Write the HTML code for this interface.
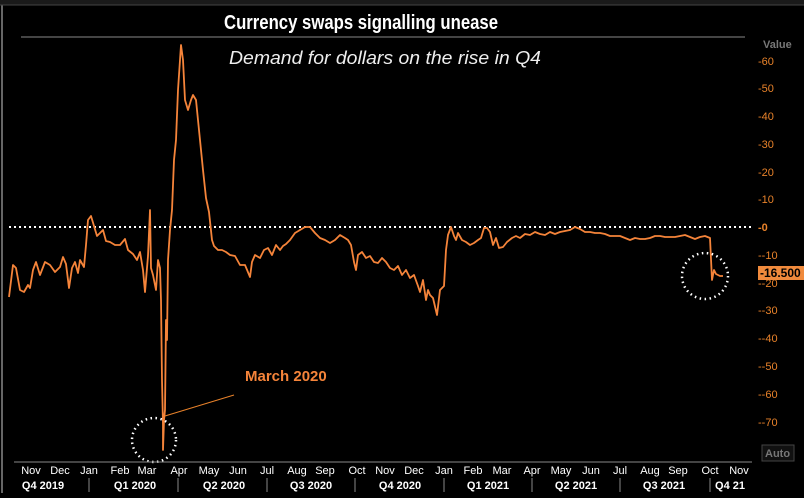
<!DOCTYPE html>
<html><head><meta charset="utf-8"><style>
html,body{margin:0;padding:0;background:#000;}
body{width:804px;height:493px;overflow:hidden;font-family:"Liberation Sans",sans-serif;}
</style></head><body>
<svg width="804" height="493" viewBox="0 0 804 493" xmlns="http://www.w3.org/2000/svg" font-family="Liberation Sans, sans-serif">
<rect width="804" height="493" fill="#000"/>
<rect x="0" y="0" width="804" height="5" fill="#1a1a1a"/>
<line x1="2" y1="5" x2="2" y2="493" stroke="#666" stroke-width="2"/>
<line x1="0" y1="5" x2="804" y2="5" stroke="#444" stroke-width="1"/>
<text x="224" y="29" fill="#fff" font-size="20" font-weight="bold" textLength="274" lengthAdjust="spacingAndGlyphs">Currency swaps signalling unease</text>
<line x1="21" y1="37" x2="745" y2="37" stroke="#888" stroke-width="1"/>
<text x="229" y="64" fill="#eee" font-size="18" font-style="italic" textLength="312" lengthAdjust="spacingAndGlyphs">Demand for dollars on the rise in Q4</text>
<text x="763" y="48" fill="#777" font-size="11" font-weight="bold">Value</text>
<g fill="#e8822a" font-size="11">
<text x="758" y="65">-60</text><text x="758" y="92">-50</text><text x="758" y="120">-40</text><text x="758" y="148">-30</text><text x="758" y="176">-20</text><text x="758" y="203">-10</text>
<text x="758" y="231" font-weight="bold">-0</text>
<text x="758" y="259">--10</text><text x="758" y="287">--20</text><text x="758" y="314">--30</text><text x="758" y="342">--40</text><text x="758" y="370">--50</text><text x="758" y="398">--60</text><text x="758" y="426">--70</text>
</g>
<rect x="758" y="266" width="46" height="14" fill="#f08a3c"/>
<text x="760" y="277" fill="#000" font-size="12" font-weight="bold">-16.500</text>
<line x1="9" y1="227" x2="752" y2="227" stroke="#fff" stroke-width="2" stroke-dasharray="2,3"/>
<polyline fill="none" stroke="#f5843a" stroke-width="1.8" stroke-linejoin="round" points="9,297 13,265 16,268 20,290 24,292 28,285 30,288 33,270 36,262 40,275 45,262 50,265 55,272 60,267 63,257 66,264 69,288 72,268 75,262 78,273 80,260 84,267 86,245 88,220 91,216 94,226 97,236 100,233 103,230 106,241 110,242 115,245 120,245 125,239 128,250 133,254 137,260 140,252 143,270 145,292 148,256 150,210 151,268 153,275 156,290 158,260 160,268 161,300 162,380 163,425 163,450 164,420 165,410 166,320 167,340 168,260 170,230 172,210 174,160 176,140 178,90 180,60 181,45 183,60 185,100 188,110 191,100 193,95 196,100 199,130 203,170 206,198 209,212 212,240 214,246 218,250 222,250 226,252 230,255 235,256 240,265 245,265 250,277 252,262 255,255 260,258 264,250 268,248 272,255 276,245 280,250 283,246 286,244 290,240 295,233 300,230 305,227 310,227 315,233 320,238 325,240 330,243 335,240 340,235 345,238 348,240 351,245 354,262 356,270 358,255 362,252 366,258 370,256 374,262 378,263 382,258 386,262 390,268 394,270 398,266 402,275 406,270 410,278 414,275 418,286 420,292 423,280 426,300 428,290 430,295 433,298 437,315 440,290 444,286 446,250 448,235 451,227 454,236 456,240 458,233 462,240 466,242 470,245 474,243 478,240 481,238 484,228 487,228 490,232 493,245 496,238 499,248 503,247 507,242 512,238 516,236 520,238 525,234 530,235 535,232 540,234 545,235 550,232 555,234 560,232 565,231 570,230 575,227 580,229 585,232 590,232 595,233 600,233 605,234 610,236 615,236 620,236 625,238 630,240 635,238 640,239 645,239 650,238 655,236 660,236 665,237 670,237 675,237 680,236 685,235 690,237 695,239 700,237 705,236 710,238 712,280 714,270 716,274 720,276 723,276"/>
<circle cx="154" cy="440" r="22" fill="none" stroke="#fff" stroke-width="2.5" stroke-dasharray="1.5,3.5"/>
<circle cx="705" cy="276" r="23" fill="none" stroke="#fff" stroke-width="2.5" stroke-dasharray="1.5,3.5"/>
<line x1="165" y1="416" x2="234" y2="395" stroke="#e8822a" stroke-width="1"/>
<text x="245" y="381" fill="#f5843a" font-size="15" font-weight="bold">March 2020</text>
<rect x="762" y="445" width="32" height="16" fill="#111" stroke="#444"/>
<text x="765" y="457" fill="#777" font-size="11" font-weight="bold">Auto</text>
<line x1="14" y1="462" x2="752" y2="462" stroke="#888" stroke-width="1"/>
<g fill="#fff" font-size="11" text-anchor="middle">
<text x="31" y="474">Nov</text><text x="60" y="474">Dec</text><text x="89" y="474">Jan</text><text x="120" y="474">Feb</text><text x="147" y="474">Mar</text><text x="179" y="474">Apr</text><text x="209" y="474">May</text><text x="238" y="474">Jun</text><text x="267" y="474">Jul</text><text x="297" y="474">Aug</text><text x="325" y="474">Sep</text><text x="357" y="474">Oct</text><text x="385" y="474">Nov</text><text x="414" y="474">Dec</text><text x="444" y="474">Jan</text><text x="473" y="474">Feb</text><text x="502" y="474">Mar</text><text x="532" y="474">Apr</text><text x="561" y="474">May</text><text x="591" y="474">Jun</text><text x="620" y="474">Jul</text><text x="650" y="474">Aug</text><text x="678" y="474">Sep</text><text x="710" y="474">Oct</text><text x="739" y="474">Nov</text>
</g>
<g fill="#fff" font-size="11" font-weight="bold" text-anchor="middle">
<text x="43" y="489">Q4 2019</text><text x="135" y="489">Q1 2020</text><text x="224" y="489">Q2 2020</text><text x="311" y="489">Q3 2020</text><text x="400" y="489">Q4 2020</text><text x="488" y="489">Q1 2021</text><text x="576" y="489">Q2 2021</text><text x="664" y="489">Q3 2021</text><text x="730" y="489">Q4 21</text>
</g>
<g stroke="#888" stroke-width="1">
<line x1="89" y1="478" x2="89" y2="492"/><line x1="178" y1="478" x2="178" y2="492"/><line x1="267" y1="478" x2="267" y2="492"/><line x1="355" y1="478" x2="355" y2="492"/><line x1="444" y1="478" x2="444" y2="492"/><line x1="532" y1="478" x2="532" y2="492"/><line x1="620" y1="478" x2="620" y2="492"/><line x1="710" y1="478" x2="710" y2="492"/>
</g>
</svg>
</body></html>
